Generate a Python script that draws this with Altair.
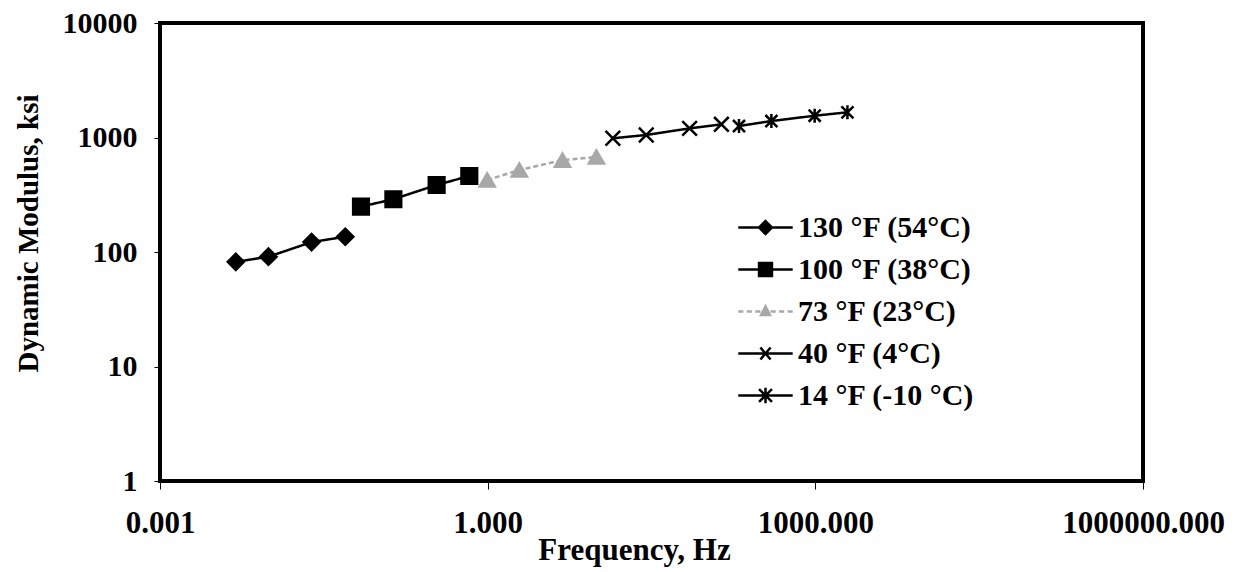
import altair as alt
import pandas as pd

series = ["130 °F (54°C)", "100 °F (38°C)", "73 °F (23°C)", "40 °F (4°C)", "14 °F (-10 °C)"]

freq_130 = [0.00494, 0.00984, 0.0244, 0.0497]
mod_130 = [82, 91, 122, 136]
freq_100 = [0.0692, 0.137, 0.341, 0.679]
mod_100 = [249, 289, 385, 461]
freq_73 = [0.99, 1.95, 4.84, 9.9]
mod_73 = [425, 520, 635, 676]
freq_40 = [14.0, 28.3, 70.6, 138.0]
mod_40 = [984, 1052, 1202, 1303]
freq_14 = [200.0, 396.0, 986.0, 1968.0]
mod_14 = [1260, 1393, 1549, 1660]

x_ticks = [0.001, 1, 1000, 1000000]
y_ticks = [1, 10, 100, 1000, 10000]

rows = []
for name, fs, ms in zip(series,
                        [freq_130, freq_100, freq_73, freq_40, freq_14],
                        [mod_130, mod_100, mod_73, mod_40, mod_14]):
    for f, m in zip(fs, ms):
        rows.append({"series": name, "freq": f, "modulus": m})
df = pd.DataFrame(rows)

colors = ["#000000", "#000000", "#a8a8a8", "#000000", "#000000"]
X_PATH = "M-1,-1L1,1M-1,1L1,-1"
AST_PATH = "M0,-1L0,1M-0.85,-0.85L0.85,0.85M-0.85,0.85L0.85,-0.85"
point_shapes = ["diamond", "square", "triangle-up", X_PATH, AST_PATH]
point_sizes = [260, 200, 110, 170, 220]

leg_shapes = [
    "M-1.6,0L1.6,0M0,-0.38L0.38,0L0,0.38L-0.38,0Z",
    "M-1.6,0L1.6,0M-0.38,-0.38L0.38,-0.38L0.38,0.38L-0.38,0.38Z",
    "M-1.6,0L-1.3,0M-1.1,0L-0.8,0M-0.6,0L-0.3,0M0.3,0L0.6,0M0.8,0L1.1,0M1.3,0L1.6,0M0,-0.3L0.26,0.2L-0.26,0.2Z",
    "M-1.6,0L1.6,0M-0.3,-0.35L0.3,0.35M-0.3,0.35L0.3,-0.35",
    "M-1.6,0L1.6,0M0,-0.45L0,0.45M-0.38,-0.38L0.38,0.38M-0.38,0.38L0.38,-0.38",
]

FONT = "Liberation Serif"

xs = alt.X("freq:Q", scale=alt.Scale(type="log", domain=[0.001, 1000000], nice=False),
           axis=alt.Axis(values=x_ticks, format=".3f", title="Frequency, Hz",
                         grid=False, domain=False, tickSize=8, tickColor="black",
                         labelPadding=19, labelFont=FONT, labelFontSize=31,
                         labelFontWeight="bold", labelColor="black", labelFlush=False,
                         labelLimit=400,
                         titleFont=FONT, titleFontSize=31, titleFontWeight="bold",
                         titleColor="black", titleX=474, titleY=78,
                         titleBaseline="alphabetic", titleAlign="center"))
ys = alt.Y("modulus:Q", scale=alt.Scale(type="log", domain=[1, 10000], nice=False),
           axis=alt.Axis(values=y_ticks, format="d", title="Dynamic Modulus, ksi",
                         grid=False, domain=False, tickSize=6, tickColor="black",
                         labelPadding=17, labelFont=FONT, labelFontSize=30,
                         labelFontWeight="bold", labelColor="black", labelFlush=False,
                         labelLimit=400,
                         titleFont=FONT, titleFontSize=29, titleFontWeight="bold",
                         titleColor="black", titleX=-132, titleY=210,
                         titleAngle=-90, titleBaseline="middle", titleAlign="center"))

color_scale = alt.Scale(domain=series, range=colors)

lines = alt.Chart(df).mark_line(strokeWidth=2.5).encode(
    x=xs, y=ys,
    color=alt.Color("series:N", scale=color_scale, legend=None),
    strokeDash=alt.StrokeDash("series:N", scale=alt.Scale(
        domain=series, range=[[1, 0], [1, 0], [5, 3], [1, 0], [1, 0]]), legend=None),
)

points = alt.Chart(df).mark_point(filled=True, strokeWidth=2.5, opacity=1).encode(
    x=xs, y=ys,
    color=alt.Color("series:N", scale=color_scale, legend=None),
    stroke=alt.Stroke("series:N", scale=color_scale, legend=None),
    shape=alt.Shape("series:N", scale=alt.Scale(domain=series, range=point_shapes), legend=None),
    size=alt.Size("series:N", scale=alt.Scale(domain=series, range=point_sizes), legend=None),
)

leg = alt.Legend(title=None, orient="none", legendX=587, legendY=186,
                 labelFont=FONT, labelFontSize=30, labelFontWeight="bold",
                 labelColor="black", labelLimit=400, symbolSize=1156, symbolStrokeWidth=2.5,
                 rowPadding=8, labelOffset=14, padding=0, symbolOpacity=1)

legend_layer = alt.Chart(df).transform_filter("datum.freq < 0").mark_point(
    filled=True, strokeWidth=2.5).encode(
    x=xs, y=ys,
    color=alt.Color("series:N", scale=alt.Scale(domain=series, range=colors), legend=leg),
    stroke=alt.Stroke("series:N", scale=alt.Scale(domain=series, range=colors), legend=leg),
    shape=alt.Shape("series:N", scale=alt.Scale(domain=series, range=leg_shapes), legend=leg),
)

chart = alt.layer(lines, points, legend_layer).resolve_scale(
    shape="independent", color="independent", stroke="independent"
).properties(
    width=983, height=458,
    autosize=alt.AutoSizeParams(type="none"),
    padding={"left": 160, "top": 23, "right": 98, "bottom": 91},
    background="white",
).configure_view(stroke="black", strokeWidth=4)

chart.save("out.html", embed_options={"renderer": "svg", "actions": False})
